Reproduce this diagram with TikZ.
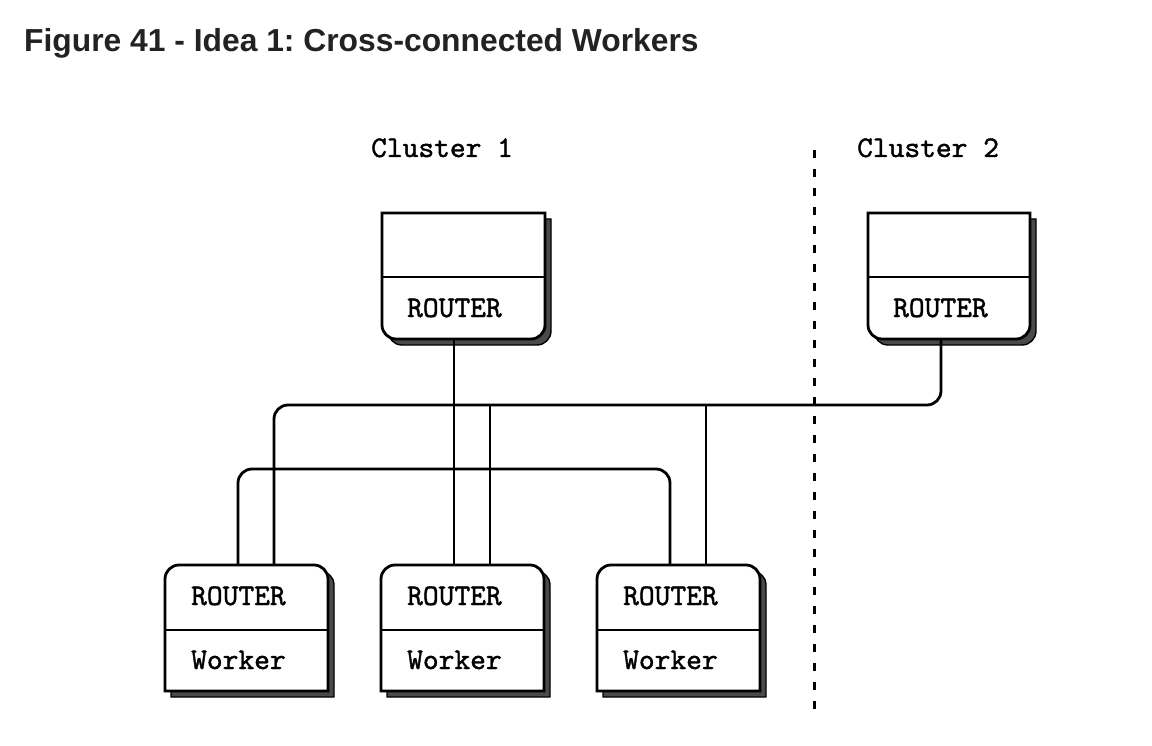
\documentclass[tikz,border=0pt]{standalone}
\usepackage{fontspec}
\setmainfont{Liberation Sans}
\newfontfamily\ttbold{lmmono10-regular.otf}[FakeBold=1.3]
\usetikzlibrary{calc}
\frenchspacing
\definecolor{titlecol}{HTML}{222222}
\definecolor{shadowcol}{HTML}{4A4A4A}
\newcommand\RR{14}
\newcommand\KK{7.7}
% top box: square top corners, rounded bottom corners
\newcommand\topshape[4]{(#1,#2) -- (#3,#2) -- (#3,{#4-\RR}) .. controls (#3,{#4-\RR+\KK}) and ({#3-\RR+\KK},#4) .. ({#3-\RR},#4) -- ({#1+\RR},#4) .. controls ({#1+\RR-\KK},#4) and (#1,{#4-\RR+\KK}) .. (#1,{#4-\RR}) -- cycle}
% worker box: rounded top corners, square bottom corners
\newcommand\botshape[4]{(#1,#4) -- (#1,{#2+\RR}) .. controls (#1,{#2+\RR-\KK}) and ({#1+\RR-\KK},#2) .. ({#1+\RR},#2) -- ({#3-\RR},#2) .. controls ({#3-\RR+\KK},#2) and (#3,{#2+\RR-\KK}) .. (#3,{#2+\RR}) -- (#3,#4) -- cycle}
\begin{document}
\begin{tikzpicture}[x=1pt,y=-1pt,
  boxline/.style={draw=black,line width=2.8pt,fill=white},
  shadowline/.style={draw=black,line width=1.4pt,fill=shadowcol},
  divline/.style={draw=black,line width=2.8pt},
  conn/.style={draw=black,line width=2.8pt},
  sepline/.style={draw=black,line width=3pt,dash pattern=on 8pt off 11pt},
  tt/.style={inner sep=0pt,anchor=base west,font=\fontsize{30}{36}\selectfont\ttbold},
  titletext/.style={inner sep=0pt,anchor=base west,text=titlecol,font=\fontsize{31.8}{36}\selectfont\bfseries}]
\useasboundingbox[fill=white] (0,0) rectangle (1152,746);

% title
\node[titletext] (title) at (24,52) {Figure 41 - Idea 1: Cross-connected Workers};

% cluster labels
\node[tt] (cl1) at (371,157) {Cluster 1};
\node[tt] (cl2) at (857,157) {Cluster 2};

% top router boxes
\path[shadowline] \topshape{388}{219}{551}{345};
\path[boxline] \topshape{382}{213}{545}{339};
\draw[divline] (382,277) -- (545,277);
\node[tt] (r1txt) at (407,317) {ROUTER};
\coordinate (r1b) at (454,339);

\path[shadowline] \topshape{874}{219}{1036}{345};
\path[boxline] \topshape{868}{213}{1030}{339};
\draw[divline] (868,277) -- (1030,277);
\node[tt] (r2txt) at (893,317) {ROUTER};
\coordinate (r2b) at (941,339);

% worker boxes
\path[shadowline] \botshape{171}{571}{334}{697};
\path[boxline] \botshape{165}{565}{328}{691};
\draw[divline] (165,630) -- (328,630);
\node[tt] (w1r) at (191,605) {ROUTER};
\node[tt] (w1w) at (191,669) {Worker};
\coordinate (w1a) at (238,565);
\coordinate (w1b) at (274,565);

\path[shadowline] \botshape{387}{571}{550}{697};
\path[boxline] \botshape{381}{565}{544}{691};
\draw[divline] (381,630) -- (544,630);
\node[tt] (w2r) at (407,605) {ROUTER};
\node[tt] (w2w) at (407,669) {Worker};
\coordinate (w2a) at (454,565);
\coordinate (w2b) at (490,565);

\path[shadowline] \botshape{603}{571}{766}{697};
\path[boxline] \botshape{597}{565}{760}{691};
\draw[divline] (597,630) -- (760,630);
\node[tt] (w3r) at (623,605) {ROUTER};
\node[tt] (w3w) at (623,669) {Worker};
\coordinate (w3a) at (670,565);
\coordinate (w3b) at (706,565);

% bus levels
\coordinate (bus1) at (0,405);
\coordinate (bus2) at (0,469);

% connectors
\draw[conn] (r1b) -- (w2a);
\draw[conn,rounded corners=14pt] (r2b) |- (bus1 -| w1b) -- (w1b);
\draw[conn] (bus1 -| w2b) -- (w2b);
\draw[conn] (bus1 -| w3b) -- (w3b);
\draw[conn,rounded corners=14pt] (w1a) |- (bus2 -| w3a) -- (w3a);

% cluster separator
\coordinate (septop) at (814,150);
\coordinate (sepbot) at (814,718);
\draw[sepline] (septop) -- (sepbot);
\end{tikzpicture}
\end{document}
